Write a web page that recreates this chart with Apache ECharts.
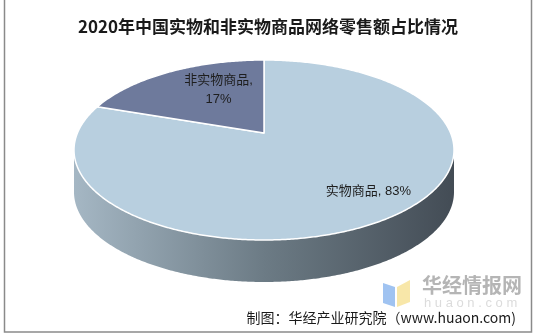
<!DOCTYPE html>
<html>
<head>
<meta charset="utf-8">
<script src="https://cdn.jsdelivr.net/npm/echarts@6/dist/echarts.min.js"></script>
<style>html,body{margin:0;padding:0;background:#fff;}#c{width:536px;height:336px;}</style>
</head>
<body>
<div id="c"></div>
<script>
const categories = ['实物商品', '非实物商品'];
const values = [83, 17];
const titleText = '2020年中国实物和非实物商品网络零售额占比情况';
const sourceText = '制图：华经产业研究院（www.huaon.com)';

const chart = echarts.init(document.getElementById('c'), null, {renderer: 'canvas'});
const G = {cx: 264, cy: 150, rx: 190, ry: 90, depth: 42, apexDy: -17};
const sliceColors = ['#b8cfdf', '#6e7a9c'];
const labelFx = [1.08, 0.47];
const labelFy = [0.76, 0.55];
const total = values.reduce((a, b) => a + b, 0);

function pt(t, dy) {
  return [G.cx + G.rx * Math.sin(t), G.cy - G.ry * Math.cos(t) + (dy || 0)];
}
function arc(a, b, dy) {
  const pts = [];
  const n = Math.max(2, Math.ceil(Math.abs(b - a) / 0.01));
  for (let k = 0; k <= n; k++) pts.push(pt(a + (b - a) * k / n, dy));
  return pts;
}

function renderItem(params, api) {
  const i = params.dataIndex;
  let before = 0;
  for (let k = 0; k < i; k++) before += values[k];
  const v = api.value(0);
  const s = before / total * Math.PI * 2;
  const e = (before + v) / total * Math.PI * 2;
  const children = [];
  const a = Math.max(s, Math.PI / 2), b = Math.min(e, Math.PI * 1.5);
  if (b > a) {
    const pts = arc(a, b, 0).concat(arc(b, a, G.depth));
    children.push({
      type: 'polygon', shape: {points: pts},
      style: {fill: {type: 'linear', x: 0, y: 0, x2: 1, y2: 0, colorStops: [
        {offset: 0, color: '#a5b7c4'}, {offset: 0.5, color: '#6c7b85'}, {offset: 1, color: '#434c55'}]}, stroke: null}
    });
  }
  const apex = [G.cx, G.cy + G.apexDy];
  children.push({
    type: 'polygon', shape: {points: [apex].concat(arc(s, e, 0))},
    style: {fill: sliceColors[i], stroke: '#ffffff', lineWidth: 1.5, lineJoin: 'round'}
  });
  const mid = (s + e) / 2;
  const pct = Math.round(v / total * 100) + '%';
  const txt = i === 0 ? categories[i] + ', ' + pct : categories[i] + ',\n' + pct;
  children.push({
    type: 'text',
    x: G.cx + G.rx * labelFx[i] * Math.sin(mid),
    y: apex[1] - G.ry * labelFy[i] * Math.cos(mid),
    style: {text: txt, align: 'center', verticalAlign: 'middle', fill: '#1e1e1e',
      font: '13px "Liberation Sans", Arial, "Noto Sans CJK SC"', lineHeight: 19}
  });
  return {type: 'group', children: children};
}

const option = {
  animation: false,
  backgroundColor: '#ffffff',
  title: {
    text: titleText, left: 'center', top: 13,
    textStyle: {fontSize: 17, fontWeight: 'bold', color: '#1a1a1a', fontFamily: '"Noto Sans CJK SC"'}
  },
  graphic: [
    {type: 'rect', shape: {x: 4.5, y: -2, width: 527, height: 334}, style: {fill: null, stroke: '#8a8a8a', lineWidth: 1.5}, z: 10},
    {type: 'polygon', shape: {points: [[383, 283], [395, 287], [395, 307], [383, 303]]}, style: {fill: '#8fb8ef', opacity: 0.85}, z: 1},
    {type: 'polygon', shape: {points: [[397, 287], [410, 280], [410, 302], [397, 307]]}, style: {fill: '#f7e39a', opacity: 0.85}, z: 1},
    {type: 'text', x: 422, y: 285, style: {text: '华经情报网', fill: '#b5b5b5', font: 'bold 20px "Noto Sans CJK SC"', verticalAlign: 'middle'}, z: 1},
    {type: 'text', x: 424, y: 303, style: {text: 'h u a o n . c o m', fill: '#dcdcdc', font: '13px "Liberation Sans"', verticalAlign: 'middle'}, z: 1},
    {type: 'text', right: 20, top: 311, style: {text: sourceText, fill: '#1a1a1a', font: '14px "Noto Sans CJK SC"'}, z: 5}
  ],
  series: [{
    type: 'custom', coordinateSystem: 'none', renderItem: renderItem,
    data: values.map((v, i) => ({name: categories[i], value: [v, i]}))
  }]
};
chart.setOption(option);
</script>
</body>
</html>
